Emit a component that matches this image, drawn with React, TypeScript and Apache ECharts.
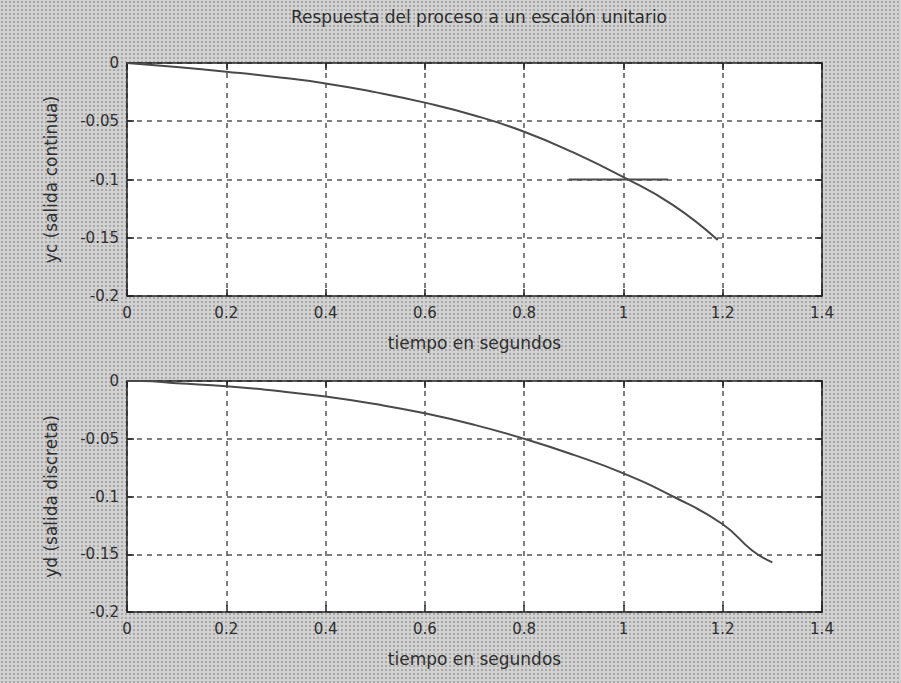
import React, { useEffect, useRef } from "react";
import * as echarts from "echarts";

const titleText = "Respuesta del proceso a un escalón unitario";
const xName = "tiempo en segundos";
const yNameTop = "yc (salida continua)";
const yNameBottom = "yd (salida discreta)";

// continuous response (top)
const tTop = [0, 0.1, 0.2, 0.3, 0.4, 0.5, 0.6, 0.7, 0.8, 0.9, 1.0, 1.1, 1.19];
const yTop = [0, -0.0035, -0.0075, -0.012, -0.0175, -0.025, -0.034, -0.045, -0.059, -0.077, -0.098, -0.122, -0.152];

// marker segment at -0.1 (top)
const tMark = [0.89, 1.09];
const yMark = [-0.1, -0.1];

// discrete response (bottom)
const tBot = [0, 0.03, 0.1, 0.2, 0.3, 0.4, 0.5, 0.6, 0.7, 0.8, 0.9, 1.0, 1.1, 1.2, 1.26, 1.3];
const yBot = [0, 0, -0.002, -0.0045, -0.0085, -0.0135, -0.02, -0.028, -0.038, -0.05, -0.064, -0.08, -0.1, -0.124, -0.147, -0.157];

const xTicks = [0, 0.2, 0.4, 0.6, 0.8, 1, 1.2, 1.4];
const yTicks = [0, -0.05, -0.1, -0.15, -0.2];

const FONT = "DejaVu Sans";
const TXT = "#2e2e2e";
const LINE = "#4a4a4a";

export default function App() {
  const ref = useRef<HTMLDivElement>(null);
  useEffect(() => {
    if (!ref.current) return;
    const chart = echarts.init(ref.current, undefined, { renderer: "svg" });
    const xMin = xTicks[0];
    const xMax = xTicks[xTicks.length - 1];
    const yMin = yTicks[yTicks.length - 1];
    const yMax = yTicks[0];
    const xFmt = (v: number) => String(+v.toFixed(1));
    const yFmt = (v: number) => (Math.abs(v) < 1e-9 ? "0" : String(+v.toFixed(2)));

    const mainX = (gridIndex: number) => ({
      type: "value",
      gridIndex,
      min: xMin,
      max: xMax,
      interval: 0.2,
      name: xName,
      nameLocation: "middle",
      nameGap: 38,
      nameTextStyle: { fontFamily: FONT, fontSize: 17, color: TXT },
      axisLine: { show: true, onZero: false, lineStyle: { color: "#222", width: 1.5 } },
      axisTick: { show: true, inside: true, length: 7, lineStyle: { color: "#222", width: 1.5 } },
      axisLabel: { fontFamily: FONT, fontSize: 15, color: TXT, margin: 9, formatter: xFmt },
      splitLine: { show: true, lineStyle: { color: "#555", type: [5, 5], width: 1.5 } },
    });
    const sideX = (gridIndex: number) => ({
      type: "value",
      gridIndex,
      position: "top",
      min: xMin,
      max: xMax,
      interval: 0.2,
      axisLine: { show: true, onZero: false, lineStyle: { color: "#222", width: 1.5 } },
      axisTick: { show: true, inside: true, length: 7, lineStyle: { color: "#222", width: 1.5 } },
      axisLabel: { show: false },
      splitLine: { show: false },
    });
    const mainY = (gridIndex: number, name: string) => ({
      type: "value",
      gridIndex,
      min: yMin,
      max: yMax,
      interval: 0.05,
      name,
      nameLocation: "middle",
      nameRotate: 90,
      nameGap: 68,
      nameTextStyle: { fontFamily: FONT, fontSize: 17, color: TXT },
      axisLine: { show: true, onZero: false, lineStyle: { color: "#222", width: 1.5 } },
      axisTick: { show: true, inside: true, length: 7, lineStyle: { color: "#222", width: 1.5 } },
      axisLabel: { fontFamily: FONT, fontSize: 15, color: TXT, margin: 8, formatter: yFmt },
      splitLine: { show: true, lineStyle: { color: "#555", type: [5, 5], width: 1.5 } },
    });
    const sideY = (gridIndex: number) => ({
      type: "value",
      gridIndex,
      position: "right",
      min: yMin,
      max: yMax,
      interval: 0.05,
      axisLine: { show: true, onZero: false, lineStyle: { color: "#222", width: 1.5 } },
      axisTick: { show: true, inside: true, length: 7, lineStyle: { color: "#222", width: 1.5 } },
      axisLabel: { show: false },
      splitLine: { show: false },
    });

    const zip = (a: number[], b: number[]) => a.map((v, i) => [v, b[i]]);

    chart.setOption({
      animation: false,
      backgroundColor: "transparent",
      title: {
        text: titleText,
        left: 474,
        top: 3,
        textAlign: "center",
        textStyle: { fontFamily: FONT, fontSize: 17, fontWeight: "normal", color: TXT },
      },
      grid: [
        { left: 127, top: 63, width: 695, height: 233, show: true, backgroundColor: "#ffffff", borderWidth: 0 },
        { left: 127, top: 381, width: 695, height: 231, show: true, backgroundColor: "#ffffff", borderWidth: 0 },
      ],
      xAxis: [mainX(0), mainX(1), sideX(0), sideX(1)],
      yAxis: [mainY(0, yNameTop), mainY(1, yNameBottom), sideY(0), sideY(1)],
      series: [
        {
          type: "line",
          xAxisIndex: 0,
          yAxisIndex: 0,
          data: zip(tTop, yTop),
          smooth: 0.5,
          showSymbol: false,
          lineStyle: { color: LINE, width: 2 },
        },
        {
          type: "line",
          xAxisIndex: 0,
          yAxisIndex: 0,
          data: zip(tMark, yMark),
          showSymbol: false,
          lineStyle: { color: LINE, width: 2 },
        },
        {
          type: "line",
          xAxisIndex: 1,
          yAxisIndex: 1,
          data: zip(tBot, yBot),
          smooth: 0.5,
          showSymbol: false,
          lineStyle: { color: LINE, width: 2 },
        },
      ],
    });
    return () => chart.dispose();
  }, []);
  return (
    <div
      ref={ref}
      style={{
        position: "fixed",
        left: 0,
        top: 0,
        width: 901,
        height: 683,
        backgroundColor: "#d2d2d2",
        backgroundImage: "radial-gradient(circle, #a8a8a8 0.9px, transparent 1.2px)",
        backgroundSize: "4px 4px",
      }}
    />
  );
}
